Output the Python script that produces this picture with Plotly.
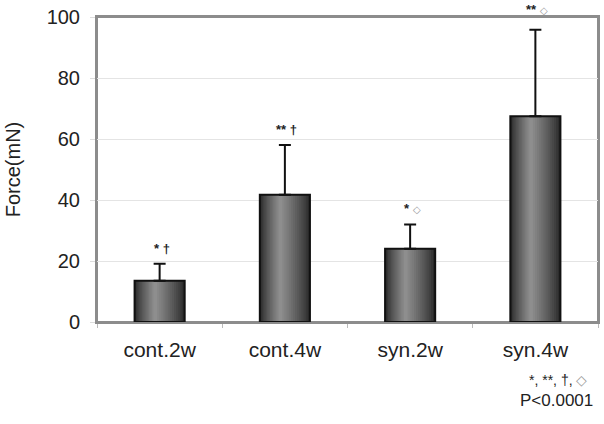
import plotly.graph_objects as go

categories = ["cont.2w", "cont.4w", "syn.2w", "syn.4w"]
force_mean = [13.5, 41.7, 24.0, 67.5]
force_err = [5.6, 16.3, 8.0, 28.3]
sig_stars = ["*", "**", "*", "**"]
sig_symbols = ["†", "†", "◇", "◇"]
y_ticks = [0, 20, 40, 60, 80, 100]

FONT = "Liberation Sans, Arial, sans-serif"
LABEL_SHIFT = [6, 6, 6, 11]  # pixel gap of significance marks above caps

fig = go.Figure()

# layered bars to imitate the cylinder-like gradient fill
n_layers = 14
dark = (42, 42, 42)
light = (142, 142, 142)
for i in range(n_layers):
    t = i / (n_layers - 1)
    w = 0.40 * (1 - t) + 0.03 * t
    off = -0.035 * t
    col = tuple(int(d + (l - d) * (t ** 0.8)) for d, l in zip(dark, light))
    fig.add_trace(go.Bar(
        x=categories, y=force_mean, width=w,
        offset=-w / 2 + off,
        marker=dict(color="rgb(%d,%d,%d)" % col, line=dict(width=0)),
        hoverinfo="skip", showlegend=False,
    ))

# outline and error bars on top
fig.add_trace(go.Bar(
    x=categories, y=force_mean, width=0.4, offset=-0.2,
    marker=dict(color="rgba(0,0,0,0)", line=dict(color="#111111", width=2)),
    error_y=dict(type="data", array=force_err, arrayminus=[0] * 4,
                 symmetric=False, color="#111111", thickness=2, width=6),
    showlegend=False,
))

for c, m, e, st, sy, ys in zip(categories, force_mean, force_err,
                               sig_stars, sig_symbols, LABEL_SHIFT):
    if sy == "◇":
        sym = "<span style='color:#9a9a9a;font-size:10px'>◇</span>"
    else:
        sym = "<b>†</b>"
    fig.add_annotation(x=c, y=m + e, text="<b>" + st + "</b> " + sym,
                       showarrow=False, yanchor="bottom", yshift=ys, xshift=2,
                       font=dict(size=13, color="#222222", family=FONT))

fig.add_annotation(xref="paper", yref="paper", x=0.92, y=-0.19,
                   text="*, **, †, <span style='color:#9a9a9a'>◇</span>",
                   showarrow=False, xanchor="center", yanchor="middle",
                   font=dict(size=14, color="#222222", family=FONT))
fig.add_annotation(xref="paper", yref="paper", x=0.918, y=-0.258,
                   text="P<0.0001", showarrow=False,
                   xanchor="center", yanchor="middle",
                   font=dict(size=17, color="#222222", family=FONT))

# plot frame
fig.add_shape(type="rect", xref="paper", yref="paper", x0=0, y0=0, x1=1, y1=1,
              line=dict(color="#8c8c8c", width=2), layer="below")

fig.update_layout(
    width=604, height=424,
    margin=dict(l=97, r=6, t=17, b=102, autoexpand=False),
    paper_bgcolor="white", plot_bgcolor="white",
    barmode="overlay",
    font=dict(family=FONT, size=20, color="#222222"),
    xaxis=dict(
        showline=True, linecolor="#8c8c8c", linewidth=2, mirror=True,
        tickson="boundaries", ticks="outside", ticklen=4, tickcolor="#bbbbbb",
        tickfont=dict(size=21), showgrid=False, ticklabelstandoff=8,
        automargin=False,
    ),
    yaxis=dict(
        range=[0, 100], tickvals=y_ticks, showline=True, linecolor="#8c8c8c",
        linewidth=2, mirror=True, ticks="outside", ticklen=5,
        tickcolor="#dddddd", gridcolor="#e4e4e4", gridwidth=1,
        tickfont=dict(size=20), zeroline=False, ticklabelstandoff=6,
        ticklabeloverflow="allow", automargin=False,
        title=dict(text="Force(mN)", font=dict(size=20), standoff=21),
    ),
)

fig.write_html("out.html", config={"displayModeBar": False},
               post_script="document.body.style.margin='0px';")
